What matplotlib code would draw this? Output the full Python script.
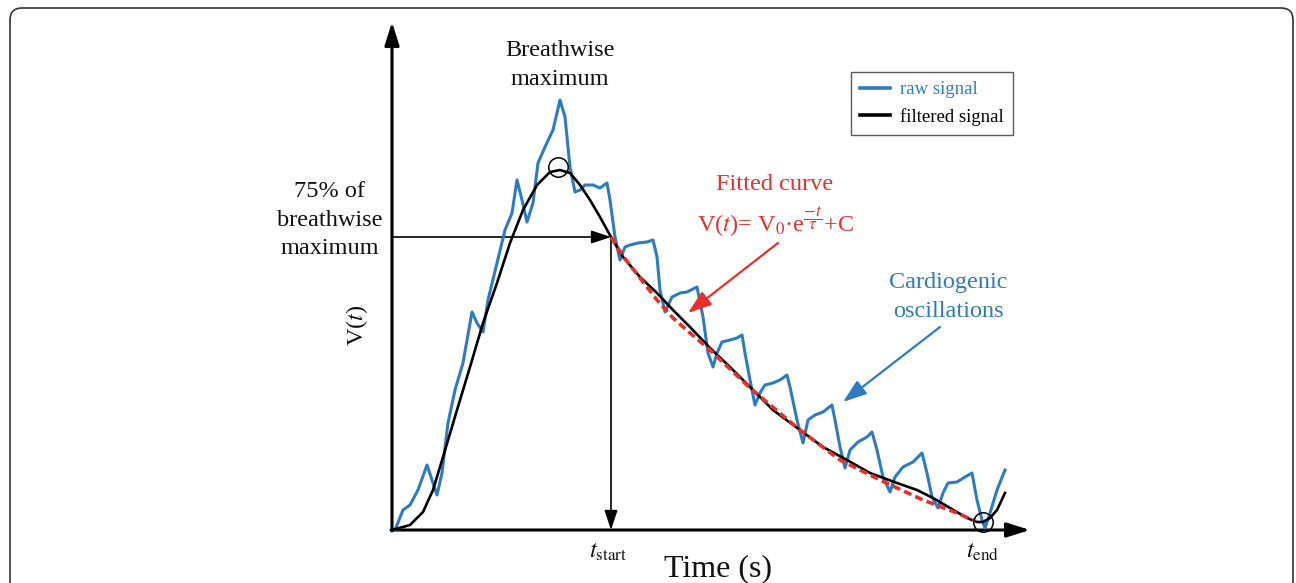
import matplotlib
matplotlib.use('Agg')
import matplotlib.pyplot as plt
from matplotlib.patches import FancyBboxPatch
from matplotlib.lines import Line2D

plt.rcParams['font.family'] = ['Liberation Serif', 'DejaVu Serif']
plt.rcParams['mathtext.fontset'] = 'stix'

BLUE = '#2f7bc0'
RED = '#e8302a'

# raw signal (time, volume)
raw_t = [0.03, 0.11, 0.18, 0.26, 0.35, 0.40, 0.45, 0.50, 0.56, 0.63, 0.71, 0.80, 0.85, 0.91,
         0.96, 1.05, 1.13, 1.20, 1.25, 1.30, 1.35, 1.41, 1.46, 1.53, 1.61, 1.68, 1.73, 1.78,
         1.83, 1.88, 1.93, 2.01, 2.08, 2.15, 2.18, 2.23, 2.28, 2.33, 2.38, 2.46, 2.55, 2.61,
         2.65, 2.68, 2.73, 2.80, 2.88, 2.95, 3.05, 3.11, 3.16, 3.21, 3.25, 3.30, 3.38, 3.45,
         3.50, 3.53, 3.58, 3.63, 3.68, 3.73, 3.81, 3.88, 3.95, 3.98, 4.05, 4.11, 4.16, 4.23,
         4.31, 4.40, 4.43, 4.48, 4.53, 4.58, 4.66, 4.75, 4.80, 4.85, 4.91, 4.98, 5.03, 5.11,
         5.21, 5.30, 5.35, 5.40, 5.46, 5.51, 5.56, 5.65, 5.73, 5.80, 5.85, 5.90, 5.93, 5.98,
         6.05, 6.13]
raw_v = [0.00, 0.20, 0.25, 0.40, 0.65, 0.50, 0.35, 0.57, 1.07, 1.40, 1.67, 2.18, 2.07, 1.98,
         2.30, 2.67, 3.00, 3.17, 3.50, 3.30, 3.08, 3.27, 3.67, 3.83, 4.00, 4.30, 4.13, 3.63,
         3.38, 3.40, 3.45, 3.45, 3.42, 3.47, 3.30, 2.93, 2.70, 2.83, 2.85, 2.87, 2.88, 2.90,
         2.73, 2.40, 2.18, 2.33, 2.37, 2.38, 2.43, 2.13, 1.77, 1.63, 1.77, 1.88, 1.90, 1.92,
         1.95, 1.77, 1.50, 1.25, 1.37, 1.45, 1.47, 1.50, 1.55, 1.43, 1.10, 0.87, 1.10, 1.15,
         1.18, 1.25, 1.10, 0.83, 0.62, 0.80, 0.88, 0.93, 0.98, 0.80, 0.53, 0.38, 0.53, 0.63,
         0.68, 0.77, 0.57, 0.33, 0.22, 0.37, 0.47, 0.48, 0.53, 0.57, 0.30, 0.10, 0.02, 0.17,
         0.40, 0.60]

# filtered signal
filt_t = [0.00, 0.18, 0.31, 0.41, 0.51, 0.65, 0.78, 0.91, 1.05, 1.18, 1.31, 1.45, 1.58, 1.68,
          1.78, 1.88, 1.98, 2.08, 2.19, 2.31, 2.48, 2.65, 2.81, 2.98, 3.18, 3.38, 3.58, 3.81,
          4.08, 4.31, 4.55, 4.78, 5.05, 5.25, 5.41, 5.58, 5.75, 5.85, 5.91, 5.98, 6.05, 6.13]
filt_v = [0.00, 0.05, 0.18, 0.40, 0.73, 1.20, 1.63, 2.07, 2.47, 2.87, 3.20, 3.45, 3.58, 3.60,
          3.57, 3.45, 3.30, 3.13, 2.93, 2.73, 2.53, 2.37, 2.20, 2.03, 1.82, 1.63, 1.43, 1.20,
          1.00, 0.83, 0.70, 0.57, 0.47, 0.40, 0.32, 0.22, 0.12, 0.08, 0.08, 0.12, 0.20, 0.37]

# fitted exponential (dashed red)
fit_t = [2.19, 2.31, 2.48, 2.65, 2.81, 2.98, 3.18, 3.58, 4.08, 4.48, 4.88, 5.31, 5.65, 5.83]
fit_v = [2.93, 2.74, 2.52, 2.30, 2.12, 1.97, 1.80, 1.42, 1.00, 0.70, 0.50, 0.30, 0.17, 0.09]

peak = (1.66, 3.63)
end_pt = (5.91, 0.08)
t_start = 2.19
v_75 = 2.93
t_axis_end = 6.38
v_axis_end = 5.08

fig = plt.figure(figsize=(12.96, 5.83), dpi=100)
ax = fig.add_axes([0, 0, 1, 1])
ax.set_xlim(-3.92, 9.04)
ax.set_ylim(-0.53, 5.30)
ax.axis('off')

# rounded frame around the panel
frame = FancyBboxPatch((0.10, -0.3), 12.83, 6.05, boxstyle='round,pad=0,rounding_size=0.12',
                       transform=fig.dpi_scale_trans, fill=False, ec='#333333', lw=1.2)
fig.patches.append(frame)

# axes with arrows
axis_arrow = dict(arrowstyle='-|>,head_length=0.7,head_width=0.22', lw=2.2, color='black',
                  mutation_scale=20, shrinkA=0, shrinkB=0)
ax.annotate('', xy=(0, v_axis_end), xytext=(0, -0.01), arrowprops=axis_arrow)
ax.annotate('', xy=(t_axis_end, 0), xytext=(-0.01, 0), arrowprops=axis_arrow)

thin_arrow = dict(arrowstyle='-|>,head_length=0.6,head_width=0.2', lw=1.2, color='black',
                  mutation_scale=20, shrinkA=0, shrinkB=0)
ax.annotate('', xy=(t_start, v_75), xytext=(0, v_75), arrowprops=thin_arrow)
ax.annotate('', xy=(t_start, 0), xytext=(t_start, v_75), arrowprops=thin_arrow)

ax.plot(raw_t, raw_v, color=BLUE, lw=2.2, zorder=3, solid_joinstyle='round')
ax.plot(filt_t, filt_v, color='black', lw=1.9, zorder=4, solid_joinstyle='round')
ax.plot(fit_t, fit_v, color=RED, lw=2.6, ls=(0, (2.2, 1.2)), zorder=5)

for p in (peak, end_pt):
    ax.plot(*p, marker='o', ms=14, mfc='none', mec='black', mew=1.1, zorder=6)

fs = 17.5
ls = 1.45
ax.text(1.68, 4.65, 'Breathwise\nmaximum', ha='center', va='center', fontsize=fs,
        linespacing=ls, color='#111111')
ax.text(-0.62, 3.10, '75% of\nbreathwise\nmaximum', ha='center', va='center', fontsize=fs,
        linespacing=ls, color='#111111')
ax.text(-0.35, 2.05, 'V($t$)', ha='center', va='center', rotation=90, fontsize=fs,
        color='#111111')
ax.text(3.83, 3.45, 'Fitted curve', ha='center', va='center', fontsize=fs, color=RED)
ax.text(3.83, 3.08, r'V($t$)= V$_0$·e$^{\dfrac{-t}{\tau}}$+C', ha='center', va='center',
        fontsize=fs, color=RED)
ax.text(5.56, 2.33, 'Cardiogenic\noscillations', ha='center', va='center', fontsize=fs,
        linespacing=ls, color=BLUE)
ax.text(t_start - 0.03, -0.22, r'$t_{\mathrm{start}}$', ha='center', va='center',
        fontsize=fs, color='#111111')
ax.text(end_pt[0], -0.22, r'$t_{\mathrm{end}}$', ha='center', va='center',
        fontsize=fs, color='#111111')
ax.text(3.26, -0.39, 'Time (s)', ha='center', va='center', fontsize=23, color='#111111')

# annotation arrows
ax.annotate('', xy=(2.96, 2.17), xytext=(3.86, 2.87),
            arrowprops=dict(arrowstyle='-|>,head_length=0.8,head_width=0.28', lw=1.6,
                            color=RED, mutation_scale=18, shrinkA=0, shrinkB=0))
ax.annotate('', xy=(4.51, 1.28), xytext=(5.48, 2.03),
            arrowprops=dict(arrowstyle='-|>,head_length=0.8,head_width=0.28', lw=1.6,
                            color=BLUE, mutation_scale=18, shrinkA=0, shrinkB=0))

handles = [Line2D([], [], color=BLUE, lw=2.6), Line2D([], [], color='black', lw=2.6)]
leg = ax.legend(handles, ['raw signal', 'filtered signal'], loc='upper left',
                bbox_to_anchor=(851 / 1296, 1 - 72 / 583), bbox_transform=fig.transFigure,
                fontsize=13.5, frameon=True, fancybox=False, edgecolor='#333333',
                handlelength=1.6, handletextpad=0.5, borderpad=0.5, labelspacing=0.5,
                borderaxespad=0)
leg.get_frame().set_linewidth(1.0)
leg.get_texts()[0].set_color(BLUE)

fig.savefig('out.png', dpi=100)
